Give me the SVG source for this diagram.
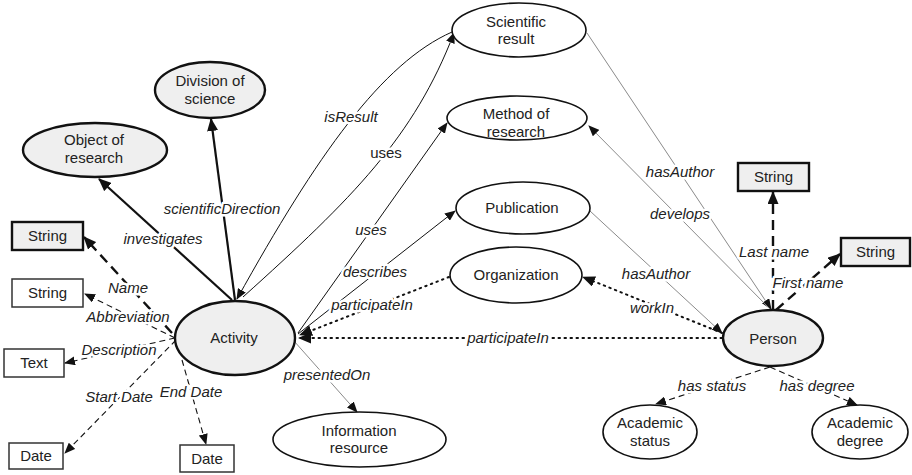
<svg xmlns="http://www.w3.org/2000/svg" width="912" height="475" viewBox="0 0 912 475">
<style>
text{font-family:"Liberation Sans",Arial,sans-serif;font-size:15px;fill:#222;text-anchor:middle}
.lbl{font-style:italic;stroke:#fff;stroke-width:5px;paint-order:stroke;stroke-linejoin:round}
.up{font-style:normal}
.nw{fill:#fff;stroke:#111;stroke-width:1.6}
.ng{fill:#efefef;stroke:#111;stroke-width:2.4}
.bw{fill:#fff;stroke:#333;stroke-width:1.5}
.bg{fill:#efefef;stroke:#111;stroke-width:2.4}
.e{fill:none;stroke:#111;stroke-width:1}
.thick{stroke-width:2.2}
.gray{stroke:#8a8a8a;stroke-width:1}
.dot{stroke-width:2;stroke-dasharray:1.5 4.5;stroke-linecap:round}
.dashT{stroke-width:2.4;stroke-dasharray:10 6}
.dash{stroke-width:1.1;stroke-dasharray:6 4}
</style>
<defs>
<marker id="a" markerUnits="userSpaceOnUse" markerWidth="11" markerHeight="9" refX="10" refY="4.5" orient="auto"><path d="M0,0 L11,4.5 L0,9 z" fill="#111"/></marker>
<marker id="aL" markerUnits="userSpaceOnUse" markerWidth="13" markerHeight="11" refX="12" refY="5.5" orient="auto"><path d="M0,0 L13,5.5 L0,11 z" fill="#111"/></marker>
</defs>
<g id="connectors">
<path class="e thick" d="M232,300 L99,179" marker-end="url(#aL)"/>
<path class="e thick" d="M235,300 L211,119" marker-end="url(#aL)"/>
<path class="e" d="M452,32 C382,63 317,155 237,299" marker-end="url(#a)"/>
<path class="e" d="M243,297 C353,198 414,137 454,33" marker-end="url(#a)"/>
<path class="e" d="M298,333 L447,123" marker-end="url(#a)"/>
<path class="e" d="M298,334 L455,211" marker-end="url(#a)"/>
<path class="e dot" d="M449,277 L300,335" marker-end="url(#aL)"/>
<path class="e dot" d="M722,338 L299,338" marker-end="url(#aL)"/>
<path class="e gray" d="M294,341 L357,412" marker-end="url(#a)"/>
<path class="e gray" d="M587,33 L771,309" marker-end="url(#a)"/>
<path class="e gray" d="M770,309 L589,126" marker-end="url(#a)"/>
<path class="e gray" d="M590,211 L722,333" marker-end="url(#a)"/>
<path class="e dot" d="M722,333 L583,277" marker-end="url(#aL)"/>
<path class="e dashT" d="M773,310 L773,192" marker-end="url(#aL)"/>
<path class="e dashT" d="M776,310 L840,254" marker-end="url(#aL)"/>
<path class="e dash" d="M770,367 L656,404" marker-end="url(#a)"/>
<path class="e dash" d="M770,367 L857,405" marker-end="url(#a)"/>
<path class="e dashT" d="M172,333 L84,237" marker-end="url(#aL)"/>
<path class="e dash" d="M175,338 L85,294" marker-end="url(#a)"/>
<path class="e dash" d="M175,338 L65,363" marker-end="url(#a)"/>
<path class="e dash" d="M176,340 L65,453" marker-end="url(#a)"/>
<path class="e dash" d="M182,360 L206,444" marker-end="url(#a)"/>
<text class="lbl" x="163" y="244">investigates</text>
<text class="lbl" x="222" y="214">scientificDirection</text>
<text class="lbl" x="351" y="122">isResult</text>
<text class="lbl up" x="386" y="158">uses</text>
<text class="lbl" x="371" y="235">uses</text>
<text class="lbl" x="375" y="277">describes</text>
<text class="lbl" x="372" y="310">participateIn</text>
<text class="lbl" x="508" y="343">participateIn</text>
<text class="lbl" x="327" y="380">presentedOn</text>
<text class="lbl" x="680" y="177">hasAuthor</text>
<text class="lbl" x="680" y="219">develops</text>
<text class="lbl" x="656" y="279">hasAuthor</text>
<text class="lbl" x="652" y="313">workIn</text>
<text class="lbl" x="774" y="257">Last name</text>
<text class="lbl" x="808" y="288">First name</text>
<text class="lbl" x="712" y="391">has status</text>
<text class="lbl" x="817" y="391">has degree</text>
<text class="lbl" x="128" y="293">Name</text>
<text class="lbl" x="128" y="322">Abbreviation</text>
<text class="lbl" x="119" y="355">Description</text>
<text class="lbl" x="119" y="402">Start Date</text>
<text class="lbl" x="191" y="397">End Date</text>
</g>
<g id="scientific-result"><ellipse class="nw" cx="519" cy="30" rx="67" ry="27"/><text x="516" y="27">Scientific</text><text x="516" y="44">result</text></g>
<g id="method-of-research"><ellipse class="nw" cx="517" cy="118" rx="70" ry="22"/><text x="516" y="119">Method of</text><text x="516" y="137">research</text></g>
<g id="publication"><ellipse class="nw" cx="523" cy="208" rx="67" ry="26"/><text x="522" y="213">Publication</text></g>
<g id="organization"><ellipse class="nw" cx="516" cy="275" rx="66" ry="28"/><text x="516" y="280">Organization</text></g>
<g id="information-resource"><ellipse class="nw" cx="359.5" cy="439.5" rx="86.5" ry="27.5"/><text x="359" y="436">Information</text><text x="359" y="453">resource</text></g>
<g id="division-of-science"><ellipse class="ng" cx="210" cy="90" rx="55" ry="28"/><text x="210" y="86">Division of</text><text x="210" y="104">science</text></g>
<g id="object-of-research"><ellipse class="ng" cx="95" cy="150" rx="72" ry="27"/><text x="94" y="145">Object of</text><text x="94" y="163">research</text></g>
<g id="activity"><ellipse class="ng" cx="235" cy="338" rx="60" ry="37"/><text x="234" y="343">Activity</text></g>
<g id="person"><ellipse class="ng" cx="773" cy="338" rx="50" ry="28"/><text x="773" y="344">Person</text></g>
<g id="academic-status"><ellipse class="nw" cx="650" cy="432" rx="47" ry="27"/><text x="650" y="428">Academic</text><text x="650" y="446">status</text></g>
<g id="academic-degree"><ellipse class="nw" cx="860" cy="432" rx="48" ry="27"/><text x="860" y="428">Academic</text><text x="860" y="446">degree</text></g>
<g id="string-lastname"><rect class="bg" x="738" y="163" width="71" height="28"/><text x="773.5" y="182">String</text></g>
<g id="string-firstname"><rect class="bg" x="841" y="238" width="69" height="28"/><text x="875.5" y="257">String</text></g>
<g id="string-name"><rect class="bg" x="12" y="222" width="71" height="28"/><text x="47.5" y="241">String</text></g>
<g id="string-abbreviation"><rect class="bw" x="12" y="279" width="71" height="28"/><text x="47.5" y="298">String</text></g>
<g id="text-description"><rect class="bw" x="4" y="349" width="60" height="28"/><text x="34" y="368">Text</text></g>
<g id="date-start"><rect class="bw" x="9" y="443" width="54" height="26"/><text x="36" y="461">Date</text></g>
<g id="date-end"><rect class="bw" x="180" y="445" width="54" height="27"/><text x="207" y="464">Date</text></g>
</svg>
